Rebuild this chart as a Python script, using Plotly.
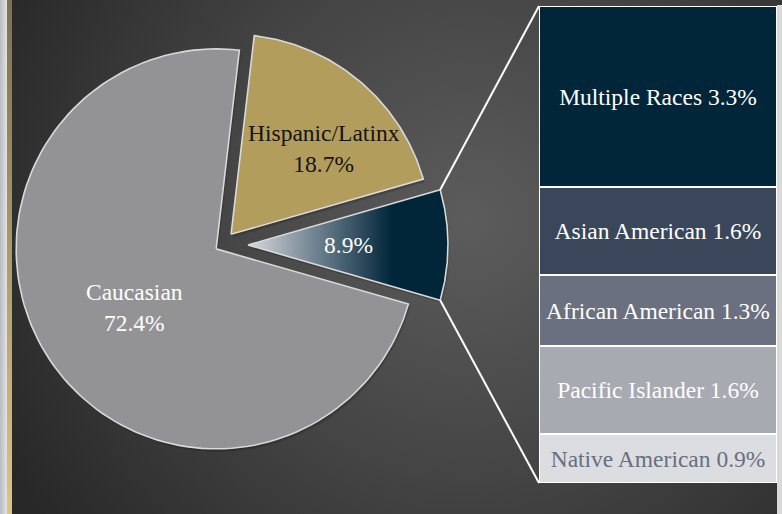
import base64
import math
import plotly.graph_objects as go

# Main breakdown (pie)
pie_labels = ["Caucasian", "Hispanic/Latinx", "Other"]
pie_values = [72.4, 18.7, 8.9]
pie_show_name = [True, True, False]

# Breakdown of the "Other" slice, listed bottom to top of the stacked bar
bar_labels = ["Native American", "Pacific Islander", "African American", "Asian American", "Multiple Races"]
bar_values = [0.9, 1.6, 1.3, 1.6, 3.3]

# ---- styling ----
W, H = 782, 514
FONT = "Liberation Serif"
CX, CY, R = 222, 245, 200                      # pie centre / radius (px)
pull_px = {"Caucasian": 7, "Hispanic/Latinx": 14, "Other": 26}
slice_fill = {"Caucasian": "#939396", "Hispanic/Latinx": "#b39d5c", "Other": None}
label_color = {"Caucasian": "#ffffff", "Hispanic/Latinx": "#141414", "Other": "#ffffff"}
label_pos = {"Caucasian": (0.5, 2), "Hispanic/Latinx": (0.63, -7), "Other": (0.5, 0)}  # (radius frac, angle shift)
bar_colors = ["#dcdde1", "#a8aab2", "#6a7080", "#3a4659", "#01263a"]
bar_text_colors = ["#666f80", "#ffffff", "#ffffff", "#ffffff", "#ffffff"]
BAR_LEFT, BAR_RIGHT, BAR_TOP, BAR_BOTTOM = 539, 777, 6, 483
TEXT_SIZE = 23.5

# Background: radial vignette plus the thin strips on the left edge
svg = f"""<svg xmlns="http://www.w3.org/2000/svg" width="{W}" height="{H}">
<defs>
<radialGradient id="bg" cx="470" cy="220" r="520" gradientUnits="userSpaceOnUse">
<stop offset="0" stop-color="#5c5c5c"/><stop offset="0.5" stop-color="#444444"/><stop offset="1" stop-color="#282828"/>
</radialGradient>
<linearGradient id="side" x1="0" y1="0" x2="1" y2="0">
<stop offset="0" stop-color="#b8bcc0"/><stop offset="1" stop-color="#e2e3e4"/>
</linearGradient>
<linearGradient id="gold" x1="0" y1="0" x2="0" y2="1">
<stop offset="0" stop-color="#7d704c"/><stop offset="1" stop-color="#dcc584"/>
</linearGradient>
</defs>
<rect width="{W}" height="{H}" fill="url(#bg)"/>
<rect x="0" y="0" width="7" height="{H}" fill="url(#side)"/>
<rect x="7" y="0" width="5" height="{H}" fill="url(#gold)"/>
<rect x="{W-5}" y="5" width="5" height="{H}" fill="#d9d9d9"/>
</svg>"""
bg_src = "data:image/svg+xml;base64," + base64.b64encode(svg.encode()).decode()

fig = go.Figure()

# ---- pie slices, laid out counter-clockwise starting with "Other" centred on the right ----
order = ["Other", "Hispanic/Latinx", "Caucasian"]
vals = dict(zip(pie_labels, pie_values))
names = dict(zip(pie_labels, pie_show_name))
start = -vals["Other"] * 3.6 / 2
geom = {}
for name in order:
    sweep = vals[name] * 3.6
    a0, a1 = start, start + sweep
    mid = math.radians((a0 + a1) / 2)
    ox = CX + pull_px[name] * math.cos(mid)
    oy = CY - pull_px[name] * math.sin(mid)
    geom[name] = (ox, oy, a0, a1)
    start = a1

def wedge(ox, oy, a0, a1, n=120):
    xs, ys = [ox], [oy]
    for i in range(n + 1):
        t = math.radians(a0 + (a1 - a0) * i / n)
        xs.append(ox + R * math.cos(t))
        ys.append(oy - R * math.sin(t))
    xs.append(ox)
    ys.append(oy)
    return xs, ys

# faint drop shadows
for name in pie_labels:
    ox, oy, a0, a1 = geom[name]
    for dx, dy, a in [(2, 3, 0.12), (1, 2, 0.12)]:
        xs, ys = wedge(ox + dx, oy + dy, a0, a1)
        fig.add_trace(go.Scatter(x=xs, y=ys, fill="toself", mode="lines", line=dict(width=0),
                                 fillcolor=f"rgba(0,0,0,{a})", hoverinfo="skip", showlegend=False))

for name in pie_labels:
    ox, oy, a0, a1 = geom[name]
    xs, ys = wedge(ox, oy, a0, a1)
    kw = {}
    if slice_fill[name] is None:
        kw["fillgradient"] = dict(type="horizontal",
                                  colorscale=[[0, "#d6dadd"], [0.3, "#7a8b99"], [0.72, "#01263a"], [1, "#01263a"]])
    else:
        kw["fillcolor"] = slice_fill[name]
    fig.add_trace(go.Scatter(x=xs, y=ys, fill="toself", mode="lines",
                             line=dict(color="#d9d9d9", width=1.6),
                             name=name, hoverinfo="name", showlegend=False, **kw))
    frac, shift = label_pos[name]
    t = math.radians((a0 + a1) / 2 + shift)
    txt = f"{name}<br>{vals[name]}%" if names[name] else f"{vals[name]}%"
    fig.add_annotation(x=ox + frac * R * math.cos(t), y=oy - frac * R * math.sin(t), text=txt,
                       showarrow=False, xref="x", yref="y",
                       font=dict(family=FONT, size=TEXT_SIZE, color=label_color[name]))

# ---- stacked bar for the "Other" breakdown ----
for lab, v, c, tc in zip(bar_labels, bar_values, bar_colors, bar_text_colors):
    fig.add_trace(go.Bar(x=[0], y=[v], xaxis="x2", yaxis="y2", width=1,
                         marker=dict(color=c, line=dict(color="#ffffff", width=2)),
                         text=[f"{lab} {v}%"], textposition="inside", insidetextanchor="middle",
                         textangle=0, textfont=dict(family=FONT, size=TEXT_SIZE, color=tc),
                         cliponaxis=False, hoverinfo="skip", showlegend=False, name=lab))

# connector lines from the "Other" slice edges to the bar
ox, oy, a0, a1 = geom["Other"]
up = (ox + R * math.cos(math.radians(a1)), oy - R * math.sin(math.radians(a1)))
lo = (ox + R * math.cos(math.radians(a0)), oy - R * math.sin(math.radians(a0)))
for (px, py), (bx, by) in [(up, (BAR_LEFT, BAR_TOP)), (lo, (BAR_LEFT, BAR_BOTTOM))]:
    fig.add_shape(type="line", x0=px, y0=py, x1=bx, y1=by, xref="x", yref="y",
                  line=dict(color="#ffffff", width=2))

fig.update_layout(
    width=W, height=H, margin=dict(l=0, r=0, t=0, b=0),
    paper_bgcolor="#333333", plot_bgcolor="rgba(0,0,0,0)",
    barmode="stack", bargap=0,
    xaxis=dict(range=[0, W], visible=False, domain=[0, 1]),
    yaxis=dict(range=[H, 0], visible=False, domain=[0, 1]),
    xaxis2=dict(range=[-0.5, 0.5], visible=False, anchor="y2",
                domain=[BAR_LEFT / W, BAR_RIGHT / W]),
    yaxis2=dict(range=[0, sum(bar_values)], visible=False, anchor="x2",
                domain=[1 - BAR_BOTTOM / H, 1 - BAR_TOP / H]),
    images=[dict(source=bg_src, xref="paper", yref="paper", x=0, y=1, sizex=1, sizey=1,
                 sizing="stretch", layer="below", xanchor="left", yanchor="top")],
)

fig.write_html("out.html")
